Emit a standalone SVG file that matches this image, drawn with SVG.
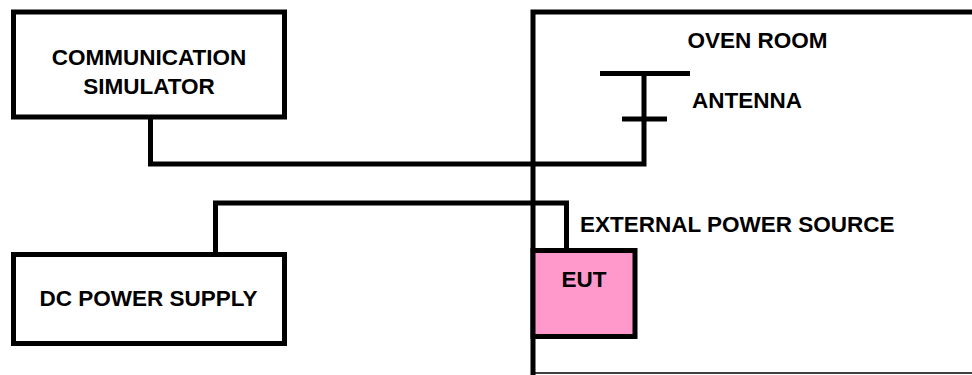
<svg xmlns="http://www.w3.org/2000/svg" width="972" height="375" viewBox="0 0 972 375">
<style>
.box{fill:#fff;stroke:#000;stroke-width:5}
.ln{fill:none;stroke:#000;stroke-width:5}
.t{font-family:"Liberation Sans",Arial,sans-serif;font-weight:bold;font-size:22.5px;fill:#000}
</style>
<rect width="972" height="375" fill="#fff"/>
<g id="oven-room">
<path class="ln" d="M975 12 H533 V375"/>
<line x1="533" y1="373" x2="975" y2="373" stroke="#000" stroke-width="1.5"/>
<text class="t" x="757.5" y="48" text-anchor="middle">OVEN ROOM</text>
</g>
<g id="comm-sim">
<rect class="box" x="13.5" y="12" width="271" height="105"/>
<text class="t" x="149" y="65" text-anchor="middle">COMMUNICATION</text>
<text class="t" x="149" y="94" text-anchor="middle">SIMULATOR</text>
</g>
<g id="dc-power">
<rect class="box" x="13.5" y="254.5" width="271" height="89"/>
<text class="t" x="148.5" y="306" text-anchor="middle">DC POWER SUPPLY</text>
</g>
<g id="antenna">
<line class="ln" x1="600" y1="73.5" x2="690" y2="73.5"/>
<line class="ln" x1="622" y1="119" x2="667" y2="119"/>
<text class="t" x="692" y="108">ANTENNA</text>
</g>
<g id="connectors">
<path class="ln" d="M150.5 117 V164 H644 V73.5"/>
<path class="ln" d="M215.5 254.5 V203 H566.5 V250.5"/>
</g>
<g id="eut">
<rect x="533" y="250.5" width="102" height="86" fill="#ff99cc" stroke="#000" stroke-width="5"/>
<text class="t" x="584" y="287" text-anchor="middle">EUT</text>
</g>
<g id="ext-power-label">
<text class="t" x="580" y="232">EXTERNAL POWER SOURCE</text>
</g>
</svg>
